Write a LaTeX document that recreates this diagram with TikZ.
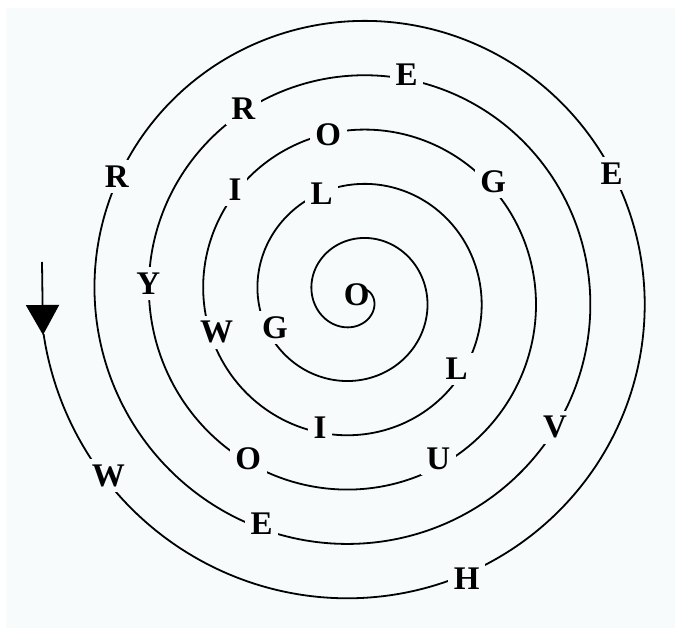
\documentclass[tikz,border=0pt]{standalone}
\usepackage{fontspec}
\setmainfont{Liberation Serif}
\usetikzlibrary{arrows.meta}
\definecolor{bgc}{RGB}{247,251,251}
\begin{document}
\begin{tikzpicture}[x=1pt,y=-1pt,
  letter/.style={font=\fontsize{33}{33}\selectfont\bfseries, fill=bgc, inner sep=5.5pt},
  centerletter/.style={font=\fontsize{33}{33}\selectfont\bfseries, inner sep=0pt},
  spiralline/.style={line width=1.8pt, line join=round, line cap=round},
  arrowline/.style={line width=1.8pt, -{Triangle[width=33pt,length=30pt]}}]
\useasboundingbox (0,0) rectangle (675,628);
\fill[bgc] (6,8) rectangle (675,628);
% spiral
\draw[spiralline] plot[domain=-390:1613, samples=1000, smooth, variable=\t]
  ({356+(71+0.151111*\t)*cos(\t)}, {296+(71+0.151111*\t)*sin(\t)});
% arrow at the outer end
\coordinate (tail) at (42,262);
\coordinate (tip) at (43,335);
\draw[arrowline] (tail) -- (tip);
% letters, from the outside inwards
\node[letter] (l1) at (108.3,475.7) {W};
\node[letter] (l2) at (466.7,579) {H};
\node[letter] (l3) at (611.7,173.3) {E};
\node[letter] (l4) at (116.7,176.7) {R};
\node[letter] (l5) at (261.7,524) {E};
\node[letter] (l6) at (555,427.3) {V};
\node[letter] (l7) at (406.7,75) {E};
\node[letter] (l8) at (243.3,108.3) {R};
\node[letter] (l9) at (148.3,283.3) {Y};
\node[letter] (l10) at (248.3,459) {O};
\node[letter] (l11) at (438.3,459) {U};
\node[letter] (l12) at (493.3,181.7) {G};
\node[letter] (l13) at (328.3,135) {O};
\node[letter] (l14) at (235,190) {I};
\node[letter] (l15) at (216.7,332.3) {W};
\node[letter] (l16) at (320,427.3) {I};
\node[letter] (l17) at (456.7,369) {L};
\node[letter] (l18) at (321.7,193.3) {L};
\node[letter] (l19) at (275,327.3) {G};
\node[centerletter] (l20) at (356.7,295) {O};
\end{tikzpicture}
\end{document}
